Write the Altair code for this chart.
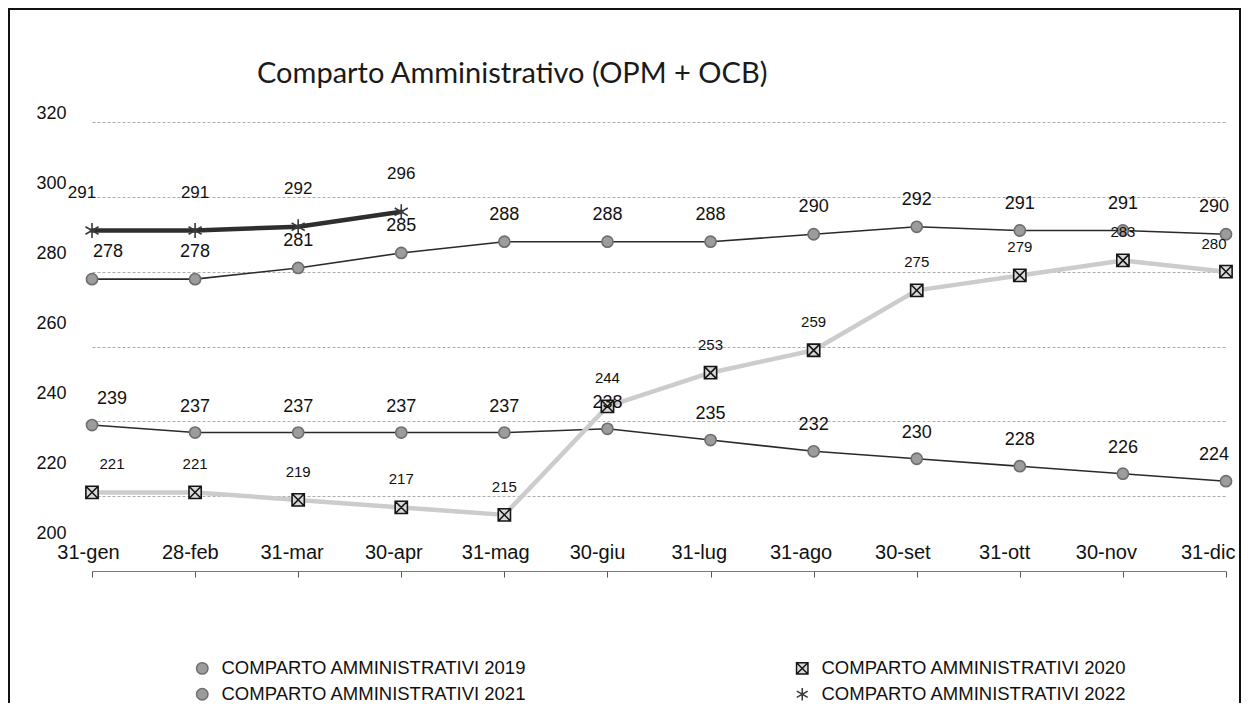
import altair as alt
import pandas as pd

# ---- data ----
months = ["31-gen", "28-feb", "31-mar", "30-apr", "31-mag", "30-giu",
          "31-lug", "31-ago", "30-set", "31-ott", "30-nov", "31-dic"]
series_names = ["COMPARTO AMMINISTRATIVI 2019", "COMPARTO AMMINISTRATIVI 2020",
                "COMPARTO AMMINISTRATIVI 2021", "COMPARTO AMMINISTRATIVI 2022"]
v2019 = [239, 237, 237, 237, 237, 238, 235, 232, 230, 228, 226, 224]
v2020 = [221, 221, 219, 217, 215, 244, 253, 259, 275, 279, 283, 280]
v2021 = [278, 278, 281, 285, 288, 288, 288, 290, 292, 291, 291, 290]
v2022 = [291, 291, 292, 296]
y_ticks = [200, 220, 240, 260, 280, 300, 320]

rows = []
for name, vals in zip(series_names, [v2019, v2020, v2021, v2022]):
    for m, v in zip(months, vals):
        rows.append({"mese": m, "valore": v, "serie": name})
df = pd.DataFrame(rows)

# ---- styles ----
FONT = "Liberation Sans"
W, H = 1134, 449
XBOX = "M-1,-1L1,-1L1,1L-1,1Z M-1,-1L1,1 M1,-1L-1,1"
ASTER = "M0,-1.1L0,1.1 M-0.95,-0.55L0.95,0.55 M-0.95,0.55L0.95,-0.55"

line_colors = ["#2a2a2a", "#cccccc", "#2a2a2a", "#2e2e2e"]
line_widths = [1.6, 4.5, 1.6, 4.5]
pt_shapes = ["circle", XBOX, "circle", ASTER]
pt_fills = ["#9c9c9c", "#d9d9d9", "#9c9c9c", "#555555"]
pt_strokes = ["#6e6e6e", "#151515", "#6e6e6e", "#3a3a3a"]
pt_sizes = [125, 150, 125, 190]

month_list_expr = "[" + ",".join("'" + m + "'" for m in months) + "]"

legend = alt.Legend(
    title=None, orient="none", legendX=101, legendY=537, columns=2,
    direction="horizontal",
    columnPadding=266, rowPadding=6, labelFont=FONT, labelFontSize=18.5,
    labelColor="#111111", labelLimit=600, labelOffset=10,
    symbolSize=130, symbolStrokeWidth=1.5,
)

x_enc = alt.X(
    "mese:O", sort=months,
    scale=alt.Scale(type="point", padding=0, domain=months),
    axis=alt.Axis(
        title=None, labelAngle=0, labelFont=FONT, labelFontSize=20,
        labelColor="#111111", labelPadding=-35,
        labelOffset={"expr": "-4 - 1.3 * indexof(" + month_list_expr + ", datum.value)"},
        domain=True, domainColor="#7a7a7a", domainWidth=1.2,
        ticks=True, tickColor="#555555", tickSize=6, grid=False,
    ),
)
y_enc = alt.Y(
    "valore:Q",
    scale=alt.Scale(domain=[200, 320], nice=False, zero=False),
    axis=alt.Axis(
        title=None, values=y_ticks, domain=False, ticks=False, tickSize=0,
        labelFont=FONT, labelFontSize=18, labelColor="#111111",
        labelPadding=26,
        labelOffset={"expr": "-9 - (320 - datum.value) * 0.24"},
        grid=True, gridColor="#ababab", gridDash=[3, 2], gridWidth=1,
    ),
)

base = alt.Chart(df).encode(x=x_enc, y=y_enc)

# scales without legend use the data-driven (alphabetical = chronological) domain
lines = base.mark_line(strokeCap="round", strokeJoin="round").encode(
    color=alt.Color("serie:N", scale=alt.Scale(range=line_colors), legend=None),
    strokeWidth=alt.StrokeWidth("serie:N", scale=alt.Scale(type="ordinal", range=line_widths), legend=None),
    detail="serie:N",
)

points = base.mark_point(filled=True, opacity=1, strokeWidth=1.6).encode(
    shape=alt.Shape("serie:N", scale=alt.Scale(domain=series_names, range=pt_shapes), legend=legend),
    fill=alt.Fill("serie:N", scale=alt.Scale(domain=series_names, range=pt_fills), legend=legend),
    stroke=alt.Stroke("serie:N", scale=alt.Scale(domain=series_names, range=pt_strokes), legend=legend),
    size=alt.Size("serie:N", scale=alt.Scale(type="ordinal", range=pt_sizes), legend=None),
)

label_dy = [-26, -28, -27, -38]
label_fs = [18, 15, 18, 17]
label_dx_first = [20, 20, 16, -10]
texts = []
for name, dy, fs, dx0 in zip(series_names, label_dy, label_fs, label_dx_first):
    texts.append(
        base.transform_filter(alt.datum.serie == name)
        .mark_text(
            dy=dy, fontSize=fs, font=FONT, color="#111111",
            dx={"expr": "datum.mese == '31-gen' ? " + str(dx0) + " : (datum.mese == '31-dic' ? -12 : 0)"},
        )
        .encode(text="valore:Q")
    )

frame = alt.Chart(pd.DataFrame({"f": [0]})).mark_rect(
    fillOpacity=0, stroke="#111111", strokeWidth=2, clip=False
).encode(x=alt.value(-83), x2=alt.value(1148), y=alt.value(-113), y2=alt.value(600))

chart = alt.layer(lines, points, *texts, frame).properties(
    width=W, height=H,
    title=alt.Title(
        "Comparto Amministrativo (OPM + OCB)", anchor="start", frame="group",
        dx=165, offset=-110, baseline="bottom", font="Lato", fontSize=29,
        fontWeight="normal", color="#1a1a1a",
    ),
    autosize=alt.AutoSizeParams(type="none"),
    padding={"left": 84, "top": 114, "right": 15, "bottom": 132},
    background="white",
).configure_view(strokeWidth=0)

chart.save("out.html", embed_options={"renderer": "svg", "actions": False})
